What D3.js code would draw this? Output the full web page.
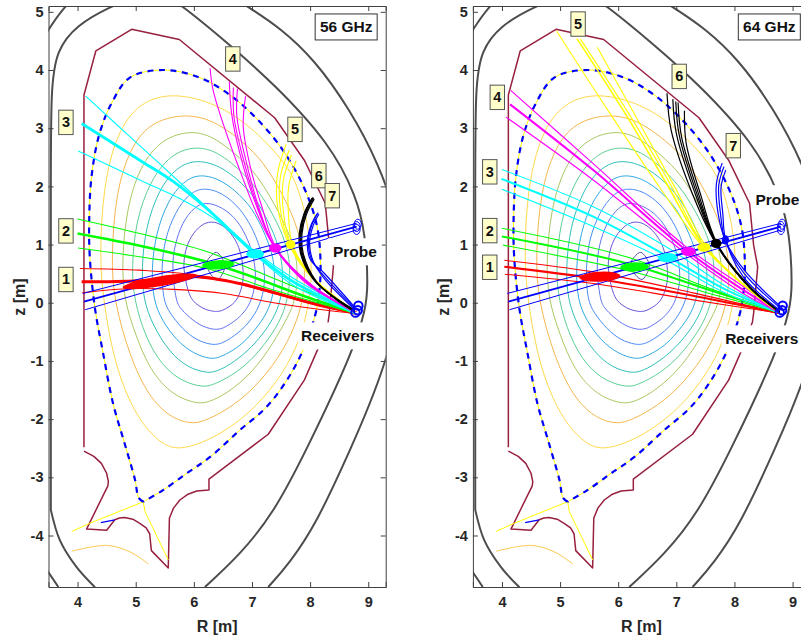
<!DOCTYPE html>
<html><head><meta charset="utf-8">
<style>html,body{margin:0;padding:0;background:#fff;overflow:hidden}svg{display:block}text{font-family:"Liberation Sans",Arial,sans-serif;font-weight:700}</style>
<script src="https://cdnjs.cloudflare.com/ajax/libs/d3/7.8.5/d3.min.js"></script>
</head><body><svg id="c" width="801" height="636"></svg>
<script>
// ---- data, all in machine coordinates [R, z] ----
const xTicks=[4,5,6,7,8,9];
const yTicks=[-4,-3,-2,-1,0,1,2,3,4,5];

const vesselInner=[[3.54,-3.56],[3.54,-1],[3.54,2],[3.54,3.71],[3.64,4.34],[3.98,4.77],[4.56,5.09],[5.1,5.3],[5.5,5.3],[5.82,5.09],[6.6,4.45],[7.37,3.77],[8.34,2.74],[8.80,1.82],[8.95,1.19],[9.0,0.27],[8.95,-0.125],[8.75,-0.81],[7.94,-2.53],[7.37,-3.62],[6.79,-4.335],[6.19,-4.885]];
const vesselInnerFoot=[[3.54,-3.56],[3.695,-4.08],[3.98,-4.54],[4.30,-4.89]];
const vesselOuter=[[3.3,4.35],[3.49,4.685],[3.75,5.06],[4.0,5.3]];
const vesselOuterRight=[[6.6,5.3],[6.91,5.1],[8.06,4.34],[9.29,2.34],[9.7,0.6],[9.30,-1.13],[8.69,-2.53],[8.11,-3.79],[7.65,-4.47],[7.28,-4.885]];
const vesselOuterFoot=[[3.3,-4.35],[3.49,-4.62],[3.67,-4.885]];

const wallMain=[[4.11,-2.485],[4.11,3.57],[4.315,4.33],[4.93,4.70],[5.75,4.525],[7.39,3.18],[7.90,2.45],[8.26,1.71],[8.33,0.99],[8.40,0.62],[8.33,-0.18],[8.31,-0.33],[8.14,-0.78],[7.90,-1.33],[7.28,-2.26],[6.26,-3.03],[6.26,-3.22],[6.05,-3.235],[5.9,-3.29],[5.76,-3.39],[5.65,-3.53],[5.58,-3.70],[5.56,-4.56],[5.27,-4.26],[5.24,-3.97],[5.18,-3.87],[5.07,-3.79],[4.95,-3.72],[4.81,-3.69],[4.72,-3.70],[4.64,-3.73],[4.50,-3.91],[4.155,-3.89],[4.47,-3.25],[4.52,-3.15],[4.53,-3.075],[4.50,-2.93],[4.41,-2.76],[4.28,-2.64],[4.11,-2.55]];

const separatrix=[[5.13,-3.42],[5.05,-3.35],[4.99,-3.05],[4.81,-2.42],[4.61,-1.73],[4.44,-0.87],[4.30,-0.1],[4.21,0.79],[4.20,1.42],[4.24,2.165],[4.37,2.88],[4.585,3.43],[4.90,3.87],[5.47,4.0],[6.10,3.87],[6.62,3.57],[7.02,3.225],[7.49,2.68],[7.89,1.99],[8.12,1.31],[8.18,0.62],[8.15,0.13],[8.08,-0.24],[7.88,-0.81],[7.6,-1.33],[7.25,-1.79],[6.79,-2.19],[6.28,-2.65],[5.88,-2.93],[5.47,-3.22],[5.13,-3.42]];
const legLeft=[[3.9,-3.93],[4.21,-3.79],[5.13,-3.42]];
const legRight=[[5.13,-3.42],[5.16,-3.59],[5.56,-4.42]];
const privateFlux=[[3.9,-4.27],[4.5,-4.17],[4.9,-4.28],[5.22,-4.49]];
const blueStub=[[4.40,-3.78],[4.64,-3.73]];

const contourYellow=[[5.64,3.62],[6.40,3.42],[6.97,3.04],[7.54,2.45],[7.78,2.05],[7.98,1.3],[8.03,0.6],[8.0,0.05],[7.83,-0.64],[7.54,-1.21],[7.08,-1.79],[6.56,-2.2],[6.10,-2.43],[5.67,-2.54],[5.36,-2.36],[5.01,-1.96],[4.64,-1.10],[4.44,0.05],[4.38,0.8],[4.44,1.99],[4.67,2.91],[5.05,3.44]];
const contourOrange=[[5.85,3.26],[6.40,3.12],[6.97,2.66],[7.26,2.33],[7.62,1.7],[7.85,1.1],[7.92,0.55],[7.88,0.05],[7.74,-0.41],[7.48,-0.93],[7.02,-1.5],[6.56,-1.85],[6.15,-2.05],[5.93,-2.08],[5.59,-1.97],[5.22,-1.61],[4.90,-0.93],[4.62,0.05],[4.58,0.8],[4.66,1.9],[4.9,2.65],[5.24,3.1]];
const contourOlive=[[5.96,2.97],[6.39,2.84],[6.97,2.34],[7.22,1.99],[7.55,1.4],[7.75,0.9],[7.79,0.5],[7.75,0.05],[7.62,-0.24],[7.37,-0.69],[7.02,-1.19],[6.56,-1.57],[6.25,-1.71],[6.07,-1.74],[5.64,-1.6],[5.24,-1.16],[4.99,-0.53],[4.80,0.05],[4.76,0.7],[4.84,1.6],[5.07,2.35],[5.45,2.82]];
const contourGreen=[[6.02,2.7],[6.45,2.59],[6.97,2.12],[7.25,1.72],[7.5,1.25],[7.63,0.85],[7.66,0.5],[7.62,0.05],[7.47,-0.35],[7.22,-0.72],[6.9,-1.08],[6.55,-1.31],[6.3,-1.42],[6.16,-1.45],[5.8,-1.36],[5.45,-1.08],[5.17,-0.6],[4.97,0.05],[4.93,0.6],[5.0,1.4],[5.25,2.1],[5.6,2.55]];
const contourTeal=[[6.05,2.47],[6.5,2.34],[6.95,1.95],[7.18,1.6],[7.4,1.15],[7.5,0.8],[7.54,0.45],[7.5,0.05],[7.37,-0.28],[7.12,-0.63],[6.85,-0.9],[6.55,-1.11],[6.35,-1.19],[6.22,-1.205],[5.9,-1.12],[5.58,-0.85],[5.3,-0.4],[5.13,0.05],[5.10,0.6],[5.17,1.3],[5.4,1.95],[5.7,2.33]];
const contourSky=[[6.1,2.22],[6.5,2.11],[6.9,1.76],[7.1,1.45],[7.28,1.05],[7.37,0.75],[7.40,0.42],[7.35,0.05],[7.22,-0.25],[7.0,-0.53],[6.8,-0.74],[6.55,-0.89],[6.4,-0.95],[6.28,-0.965],[6.0,-0.88],[5.7,-0.65],[5.45,-0.3],[5.30,0.05],[5.27,0.6],[5.35,1.2],[5.55,1.75],[5.82,2.09]];
const contourBlue=[[6.15,1.99],[6.5,1.89],[6.8,1.62],[7.0,1.3],[7.13,0.98],[7.2,0.7],[7.23,0.4],[7.17,0.05],[7.05,-0.2],[6.9,-0.4],[6.7,-0.57],[6.5,-0.69],[6.4,-0.715],[6.3,-0.72],[6.05,-0.65],[5.8,-0.45],[5.58,-0.17],[5.47,0.05],[5.44,0.6],[5.5,1.1],[5.68,1.56],[5.9,1.86]];
const contourIndigo=[[6.2,1.74],[6.5,1.64],[6.75,1.42],[6.9,1.15],[7.0,0.9],[7.05,0.65],[7.07,0.38],[7.0,0.05],[6.88,-0.15],[6.75,-0.28],[6.62,-0.37],[6.5,-0.44],[6.42,-0.455],[6.33,-0.46],[6.12,-0.4],[5.92,-0.25],[5.75,-0.08],[5.69,0.05],[5.62,0.6],[5.67,1.0],[5.8,1.38],[6.0,1.64]];
const contourViolet=[[6.3,1.41],[6.5,1.34],[6.68,1.15],[6.78,0.95],[6.83,0.75],[6.85,0.55],[6.85,0.35],[6.78,0.12],[6.7,0.0],[6.62,-0.06],[6.55,-0.1],[6.48,-0.14],[6.4,-0.15],[6.35,-0.15],[6.2,-0.12],[6.08,-0.05],[5.98,0.03],[5.9,0.18],[5.81,0.6],[5.85,0.9],[5.95,1.15],[6.12,1.34]];
const contourCore=[[6.39,0.866],[6.535,0.65],[6.48,0.476],[6.41,0.40],[6.30,0.476],[6.22,0.68],[6.28,0.79]];

const probeUpper=[[8.8,1.365],[4.09,0.16]];
const probeCentre=[[8.8,1.31],[4.11,0.02]];
const probeLower=[[8.8,1.25],[4.13,-0.12]];
const probeHeads=[[8.82,1.35],[8.80,1.31],[8.80,1.26]];
const receiverHeads=[[8.83,-0.05],[8.82,-0.13],[8.78,-0.17]];

// 56 GHz rays
const red56=[[[4.04,0.59],[5.07,0.56],[6.22,0.45],[7.37,0.16],[8.34,-0.10],[8.8,-0.15]],
 [[4.07,0.36],[5.07,0.38],[5.99,0.45],[6.79,0.33],[7.94,0.02],[8.77,-0.18]],
 [[4.08,0.17],[4.84,0.24],[5.65,0.23],[6.51,0.16],[7.37,0],[8.28,-0.13],[8.77,-0.18]]];
const green56=[[[4.0,1.44],[5.07,1.19],[6.22,0.88],[7.37,0.42],[8.77,-0.15]],
 [[4.0,1.19],[5.07,0.98],[6.16,0.72],[6.91,0.48],[7.94,0.1],[8.77,-0.17]],
 [[4.01,0.94],[5.07,0.79],[6.22,0.59],[7.37,0.22],[8.77,-0.18]]];
const cyan56=[[[4.14,3.55],[4.96,2.80],[5.65,2.17],[6.33,1.54],[7.02,0.91],[7.71,0.42],[8.77,-0.15]],
 [[4.07,3.08],[5.07,2.45],[5.65,2.08],[6.22,1.62],[6.68,1.19],[7.05,0.85],[7.71,0.36],[8.77,-0.17]],
 [[4.01,2.61],[5.07,2.11],[5.76,1.79],[6.39,1.42],[7.02,0.85],[7.71,0.30],[8.77,-0.18]]];
const magenta56=[[[6.28,4.03],[6.33,3.66],[6.56,2.91],[6.79,2.28],[7.08,1.54],[7.40,0.94],[7.94,0.33],[8.77,-0.15]],
 [[6.61,3.80],[6.65,3.25],[6.79,2.57],[7.02,1.82],[7.40,0.94],[7.88,0.39],[8.77,-0.16]],
 [[6.68,3.70],[6.69,3.2],[6.84,2.51],[7.05,1.79],[7.40,0.94],[7.94,0.36],[8.77,-0.16]],
 [[6.75,3.68],[6.74,3.2],[6.88,2.51],[7.08,1.76],[7.40,0.94],[8.0,0.33],[8.77,-0.16]],
 [[6.89,3.55],[6.85,3.03],[6.97,2.34],[7.17,1.65],[7.42,0.94],[8.05,0.28],[8.77,-0.17]]];
const yellow56=[[[7.59,2.73],[7.44,2.22],[7.44,1.65],[7.63,1.02],[7.94,0.53],[8.77,-0.15]],
 [[7.64,2.62],[7.49,2.17],[7.49,1.59],[7.65,1.02],[8.0,0.48],[8.77,-0.16]],
 [[7.68,2.54],[7.54,2.11],[7.54,1.56],[7.67,1.0],[8.03,0.45],[8.77,-0.16]],
 [[7.76,2.44],[7.63,1.99],[7.63,1.48],[7.70,0.99],[8.08,0.39],[8.77,-0.17]]];
const black56=[[[8.035,1.8],[7.895,1.53],[7.815,1.19],[7.835,0.85],[8.05,0.41],[8.385,0.12],[8.77,-0.13]],
 [[8.05,1.81],[7.91,1.54],[7.83,1.19],[7.85,0.85],[8.07,0.39],[8.40,0.1],[8.77,-0.14]],
 [[8.06,1.8],[7.925,1.54],[7.845,1.19],[7.865,0.85],[8.09,0.38],[8.415,0.09],[8.77,-0.15]],
 [[8.07,1.78],[7.94,1.53],[7.86,1.19],[7.88,0.85],[8.11,0.36],[8.43,0.07],[8.77,-0.16]]];
const blue56=[[[8.12,1.53],[8.01,1.32],[7.95,1.02],[8.01,0.73],[8.23,0.52],[8.77,-0.08]],
 [[8.14,1.55],[8.03,1.34],[7.97,1.02],[8.03,0.73],[8.23,0.47],[8.77,-0.1]],
 [[8.15,1.52],[8.05,1.32],[7.99,1.02],[8.05,0.72],[8.24,0.42],[8.77,-0.12]]];

// 64 GHz rays
const red64=[[[4.04,0.73],[5.57,0.53],[7.29,0.17],[8.78,-0.18]],
 [[4.04,0.62],[5.57,0.42],[7.29,0.12],[8.78,-0.18]],
 [[4.05,0.49],[5.57,0.33],[7.29,0.05],[8.78,-0.18]]];
const green64=[[[4.0,1.28],[6.14,0.79],[7.57,0.25],[8.78,-0.17]],
 [[4.0,1.14],[6.14,0.68],[7.57,0.22],[8.78,-0.17]],
 [[4.02,0.99],[6.14,0.56],[7.57,0.16],[8.78,-0.17]]];
const cyan64=[[[4.0,2.29],[5.57,1.65],[6.86,0.94],[7.86,0.28],[8.78,-0.17]],
 [[3.99,2.13],[5.57,1.48],[6.86,0.79],[7.86,0.22],[8.78,-0.17]],
 [[4.0,1.95],[5.57,1.31],[6.86,0.71],[7.86,0.16],[8.78,-0.17]]];
const magenta64=[[[4.15,3.65],[5.57,2.39],[7.17,0.96],[8.15,0.28],[8.78,-0.17]],
 [[4.14,3.41],[5.57,2.28],[7.2,0.88],[8.15,0.22],[8.78,-0.17]],
 [[4.07,3.19],[5.57,2.11],[7.2,0.82],[8.15,0.16],[8.78,-0.17]]];
const yellow64=[[[4.94,4.67],[5.86,3.25],[6.71,1.99],[7.46,0.96],[8.2,0.28],[8.78,-0.17]],
 [[5.29,4.54],[6.14,3.22],[6.83,2.05],[7.48,0.96],[8.23,0.25],[8.78,-0.17]],
 [[5.35,4.53],[6.2,3.22],[6.89,2.05],[7.49,0.96],[8.26,0.22],[8.78,-0.17]],
 [[5.64,4.39],[6.37,3.08],[7.0,1.94],[7.52,0.96],[8.29,0.19],[8.78,-0.17]]];
const black64=[[[6.84,3.6],[6.91,2.97],[7.23,1.99],[7.68,1.02],[8.2,0.33],[8.78,-0.15]],
 [[6.94,3.5],[7.0,2.91],[7.29,1.97],[7.68,1.02],[8.23,0.3],[8.78,-0.15]],
 [[6.99,3.46],[7.05,2.88],[7.33,1.94],[7.69,1.02],[8.26,0.27],[8.78,-0.16]],
 [[7.03,3.44],[7.09,2.85],[7.37,1.91],[7.69,1.02],[8.27,0.25],[8.78,-0.16]],
 [[7.14,3.3],[7.17,2.74],[7.43,1.82],[7.70,1.02],[8.32,0.22],[8.78,-0.17]]];
const blue64=[[[7.79,2.4],[7.69,2.05],[7.72,1.53],[7.84,1.08],[8.17,0.56],[8.83,-0.1]],
 [[7.82,2.34],[7.73,2.02],[7.76,1.53],[7.84,1.08],[8.17,0.5],[8.8,-0.1]],
 [[7.85,2.28],[7.77,1.99],[7.8,1.53],[7.85,1.08],[8.15,0.45],[8.78,-0.13]]];

// focal spots on the probing beam: [R0, z0, R1, z1]
const spots56=[[4.79,0.265,6.03,0.47],[6.16,0.64,6.68,0.665],[6.92,0.84,7.19,0.84],[7.31,0.94,7.49,0.94],[7.6,1.0,7.73,1.0]];
const spots64=[[5.35,0.43,6.02,0.465],[6.05,0.61,6.51,0.62],[6.70,0.77,7.0,0.78],[7.1,0.88,7.32,0.88],[7.38,0.95,7.57,0.96],[7.61,1.02,7.76,1.02],[7.8,1.08,7.89,1.08]];
const spotColours56=["#ff0000","#00ff00","#00ffff","#ff00ff","#ffff00"];
const spotColours64=["#ff0000","#00ff00","#00ffff","#ff00ff","#ffff00","#000000","#0000ff"];

const tagNames=["1","2","3","4","5","6","7"];
const tags56=[[3.80,0.40],[3.80,1.235],[3.80,3.10],[6.67,4.19],[7.74,2.98],[8.15,2.185],[8.38,1.84]];
const tags64=[[3.79,0.61],[3.79,1.24],[3.79,2.25],[3.92,3.53],[5.31,4.79],[7.05,3.89],[7.98,2.70]];

const contours=[contourYellow,contourOrange,contourOlive,contourGreen,contourTeal,contourSky,contourBlue,contourIndigo,contourViolet];
const contourColours=["#ffd84a","#f5b64e","#a8c862","#5ccf93","#2fbfbb","#2ea8e2","#4a8cf2","#6074f0","#6456d8"];

// ---- drawing ----
const svg=d3.select("#c");
const yScale=d3.scaleLinear().domain([-4.885,5.1]).range([587,6]);
const lineOpen=x=>d3.line().x(d=>x(d[0])).y(d=>yScale(d[1])).curve(d3.curveCatmullRom.alpha(0.5));
const lineSmooth=x=>d3.line().x(d=>x(d[0])).y(d=>yScale(d[1])).curve(d3.curveBasis);
const linePoly=x=>d3.line().x(d=>x(d[0])).y(d=>yScale(d[1]));
const lineClosed=x=>d3.line().x(d=>x(d[0])).y(d=>yScale(d[1])).curve(d3.curveCatmullRomClosed.alpha(0.5));
const lineLoop=x=>d3.line().x(d=>x(d[0])).y(d=>yScale(d[1])).curve(d3.curveBasisClosed);

function panel(id,x0,x1,cfg){
  const x=d3.scaleLinear().domain([3.5,9.3]).range([x0,x1]);
  const clipId="clip"+id;
  svg.append("clipPath").attr("id",clipId).append("rect").attr("x",x0).attr("y",6).attr("width",x1-x0).attr("height",581);
  const g=svg.append("g").attr("clip-path",`url(#${clipId})`);
  const o=lineOpen(x),p=linePoly(x),c=lineClosed(x),s2=lineSmooth(x),l=lineLoop(x);
  const stroke=(d,col,w,extra)=>{const s=g.append("path").attr("d",d).attr("fill","none").attr("stroke",col).attr("stroke-width",w).attr("stroke-linejoin","round");if(extra)s.attr("stroke-dasharray",extra);return s;};

  [vesselInner,vesselOuter,vesselOuterRight].forEach(v=>stroke(s2(v),"#4d4d4d",2));
  [vesselInnerFoot,vesselOuterFoot].forEach(v=>stroke(o(v),"#4d4d4d",2));
  stroke(p(wallMain),"#97203f",1.5);
  contours.forEach((ct,i)=>stroke(l(ct),contourColours[i],1));
  stroke(c(contourCore),"#5a50a8",1);
  stroke(o(privateFlux),"#fbc94e",1);
  stroke(o(separatrix),"#ffff00",1);
  stroke(p(legLeft),"#ffff00",1);
  stroke(p(legRight),"#ffff00",1);
  stroke(o(separatrix),"#0000ff",2.2,"6 5.5");
  stroke(p(blueStub),"#0000ff",1.2);

  cfg.beams.forEach(b=>{
    b.rays.forEach((r,i)=>stroke(o(r),b.colour,(i===1&&b.bold)?b.bold:b.thin||1.1));
  });
  [[probeUpper,1],[probeCentre,1.8],[probeLower,1]].forEach(([ln,w])=>stroke(p(ln),"#0000ff",w));

  g.selectAll(null).data(cfg.spots).join("ellipse").each(function(s,i){
    const xa=x(s[0]),ya=yScale(s[1]),xb=x(s[2]),yb=yScale(s[3]);
    const len=Math.hypot(xb-xa,yb-ya);
    const ang=Math.atan2(yb-ya,xb-xa)*180/Math.PI;
    d3.select(this).attr("transform",`translate(${(xa+xb)/2},${(ya+yb)/2}) rotate(${ang})`)
      .attr("rx",len/2+1).attr("ry",i===0?5:4.6).attr("fill",cfg.spotColours[i]);
  });

  g.selectAll(null).data(probeHeads).join("ellipse").attr("cx",d=>x(d[0])).attr("cy",d=>yScale(d[1]))
    .attr("rx",3.5).attr("ry",5).attr("fill","none").attr("stroke","#0000ff").attr("stroke-width",1);
  g.selectAll(null).data(receiverHeads).join("circle").attr("cx",d=>x(d[0])).attr("cy",d=>yScale(d[1]))
    .attr("r",4.2).attr("fill","none").attr("stroke","#0000ff").attr("stroke-width",2);

  // axes
  const tf=d=>String(d);
  const col="#404040";
  const axes=[
    [d3.axisBottom(x).tickValues(xTicks).tickFormat(tf).tickSize(-5).tickPadding(10),0,587],
    [d3.axisTop(x).tickValues(xTicks).tickFormat("").tickSize(-5),0,6],
    [d3.axisLeft(yScale).tickValues(yTicks).tickFormat(tf).tickSize(-5).tickPadding(5),x0,0],
    [d3.axisRight(yScale).tickValues(yTicks).tickFormat("").tickSize(-5),x1,0]];
  axes.forEach(([a,tx,ty])=>{
    const ag=svg.append("g").attr("transform",`translate(${tx},${ty})`).call(a);
    ag.selectAll("path,line").attr("stroke",col).attr("stroke-width",1);
    ag.selectAll("text").attr("fill","#262626").style("font-size","14.5px").style("font-family",'"Liberation Sans",Arial,sans-serif').style("font-weight",700);
  });
  svg.append("text").attr("x",(x0+x1)/2).attr("y",632).attr("text-anchor","middle").attr("fill","#262626").style("font-size","16px").text("R [m]");
  svg.append("text").attr("transform",`translate(${x0-24},297) rotate(-90)`).attr("text-anchor","middle").attr("fill","#262626").style("font-size","16px").text("z [m]");

  // annotations
  const an=svg.append("g");
  cfg.boxes.forEach(b=>{
    an.append("rect").attr("x",x(b.R)-b.w/2).attr("y",yScale(b.z)-b.h/2).attr("width",b.w).attr("height",b.h).attr("fill","#fff");
    an.append("text").attr("x",x(b.R)).attr("y",yScale(b.z)+5.5).attr("text-anchor","middle").attr("fill","#111").style("font-size","15.5px").text(b.t);
  });
  an.append("rect").attr("x",x(cfg.title[0])-31).attr("y",yScale(cfg.title[1])-13).attr("width",62).attr("height",26).attr("fill","#fff").attr("stroke","#333").attr("stroke-width",1);
  an.append("text").attr("x",x(cfg.title[0])).attr("y",yScale(cfg.title[1])+5.5).attr("text-anchor","middle").attr("fill","#111").style("font-size","15.5px").text(cfg.titleText);
  an.selectAll(null).data(cfg.tags).join("g").each(function(t,i){
    const s=d3.select(this).attr("transform",`translate(${x(t[0])},${yScale(t[1])})`);
    s.append("rect").attr("x",-7.2).attr("y",-12.2).attr("width",14.4).attr("height",24.4).attr("fill","#ffffcc").attr("stroke","#555").attr("stroke-width",1);
    s.append("text").attr("y",5).attr("text-anchor","middle").attr("fill","#111").style("font-size","14.5px").text(tagNames[i]);
  });
}

panel("a",48.5,385.7,{beams:[{rays:red56,colour:"#ff0000",bold:3},{rays:green56,colour:"#00ff00",bold:2.6},{rays:cyan56,colour:"#00ffff",bold:2.8},{rays:magenta56,colour:"#ff00ff"},{rays:yellow56,colour:"#ffff00"},{rays:black56,colour:"#000000",thin:1.3},{rays:blue56,colour:"#0000ff",thin:1.2}],
  spots:spots56,spotColours:spotColours56,tags:tags56,title:[8.62,4.74],titleText:"56 GHz",
  boxes:[{R:8.77,z:0.876,w:54,h:27,t:"Probe"},{R:8.475,z:-0.57,w:80,h:27,t:"Receivers"}]});
panel("b",472.9,810,{beams:[{rays:red64,colour:"#ff0000",bold:2},{rays:green64,colour:"#00ff00",bold:2},{rays:cyan64,colour:"#00ffff",bold:2},{rays:magenta64,colour:"#ff00ff",bold:2},{rays:yellow64,colour:"#ffff00",bold:1.6},{rays:black64,colour:"#000000",thin:1.2},{rays:blue64,colour:"#0000ff",thin:1.2}],
  spots:spots64,spotColours:spotColours64,tags:tags64,title:[8.6,4.74],titleText:"64 GHz",
  boxes:[{R:8.74,z:1.78,w:50,h:28,t:"Probe"},{R:8.47,z:-0.62,w:80,h:27,t:"Receivers"}]});
</script></body></html>
